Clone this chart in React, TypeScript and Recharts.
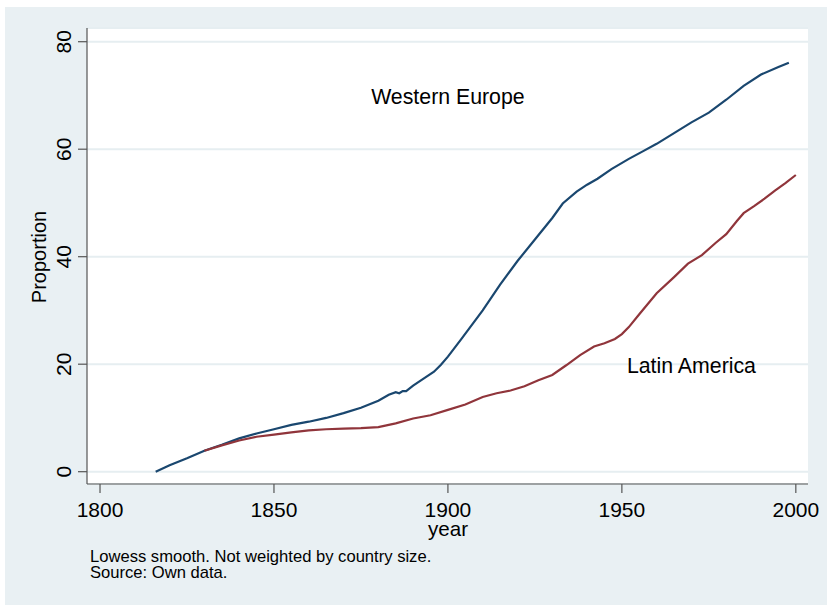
import React from 'react';
import { LineChart, Line, XAxis, YAxis, CartesianGrid, ReferenceDot } from 'recharts';

// Western Europe (lowess smooth)
const weYears = [1816, 1820, 1825, 1830, 1835, 1840, 1845, 1850, 1855, 1860, 1865, 1870, 1875, 1880, 1883, 1885, 1886, 1887, 1888, 1890, 1893, 1896, 1898, 1900, 1904, 1910, 1915, 1920, 1925, 1930, 1933, 1937, 1940, 1943, 1947, 1952, 1956, 1960, 1965, 1970, 1975, 1980, 1985, 1990, 1995, 1998];
const weValues = [0, 1.2, 2.5, 3.9, 5.0, 6.2, 7.1, 7.9, 8.7, 9.3, 10.0, 10.9, 11.9, 13.2, 14.3, 14.8, 14.6, 15.0, 15.0, 16.0, 17.3, 18.6, 19.9, 21.4, 24.8, 30.0, 34.8, 39.2, 43.2, 47.2, 49.9, 52.1, 53.4, 54.5, 56.3, 58.2, 59.6, 61.0, 63.0, 65.0, 66.8, 69.2, 71.8, 73.9, 75.3, 76.1];

// Latin America (lowess smooth)
const laYears = [1830, 1835, 1840, 1845, 1850, 1855, 1860, 1865, 1870, 1875, 1880, 1885, 1890, 1895, 1900, 1905, 1910, 1914, 1918, 1922, 1926, 1930, 1934, 1938, 1942, 1945, 1948, 1950, 1952, 1955, 1960, 1965, 1969, 1973, 1977, 1980, 1983, 1985, 1988, 1991, 1994, 1997, 2000];
const laValues = [3.9, 4.9, 5.8, 6.5, 6.9, 7.3, 7.7, 7.9, 8.0, 8.1, 8.3, 9.0, 9.9, 10.5, 11.5, 12.5, 13.9, 14.6, 15.1, 15.9, 17.0, 18.0, 19.8, 21.7, 23.3, 23.9, 24.7, 25.6, 26.9, 29.3, 33.2, 36.2, 38.7, 40.3, 42.6, 44.2, 46.6, 48.1, 49.4, 50.8, 52.3, 53.7, 55.2];

const xTicks = [1800, 1850, 1900, 1950, 2000];
const yTicks = [0, 20, 40, 60, 80];

const weData = weYears.map((year, i) => ({ year, value: weValues[i] }));
const laData = laYears.map((year, i) => ({ year, value: laValues[i] }));

const FONT = '"Liberation Sans", Arial, Helvetica, sans-serif';
const BG = '#e9f0f3';

const YTick = (props: any) => {
    const { x, y, payload } = props;
    const bx = x - 5;
    return (
        <text x={bx} y={y} transform={`rotate(-90, ${bx}, ${y})`} textAnchor="middle"
            fontSize={21} fontFamily={FONT} fill="#000">
            {payload.value}
        </text>
    );
};

const App = () => {
    return (
        <div style={{ position: 'absolute', left: 0, top: 0, width: 827, height: 607, background: '#fff' }}>
            <div style={{ position: 'absolute', left: 5, top: 7, width: 822, height: 598, background: BG }} />
            <div style={{ position: 'absolute', left: 87, top: 28, width: 721, height: 456, background: '#fff' }} />
            <div style={{ position: 'absolute', left: 0, top: 0 }}>
                <LineChart width={827} height={607} margin={{ top: 28, right: 19, left: 37, bottom: 93 }}>
                    <CartesianGrid vertical={false} stroke="#e6eef1" strokeWidth={2} />
                    <XAxis type="number" dataKey="year" domain={[1796.26, 2003.5]} ticks={xTicks}
                        allowDataOverflow height={30} tickSize={9} tickMargin={9}
                        stroke="#555" strokeWidth={1.2}
                        tick={{ fontSize: 21, fontFamily: FONT, fill: '#000' }} />
                    <YAxis type="number" dataKey="value" domain={[-2.29, 82.55]} ticks={yTicks}
                        allowDataOverflow width={50} tickSize={9}
                        stroke="#555" strokeWidth={1.2} tick={<YTick />} />
                    <Line data={weData} dataKey="value" type="linear" stroke="#1a476f" strokeWidth={2.2}
                        dot={false} isAnimationActive={false} />
                    <Line data={laData} dataKey="value" type="linear" stroke="#90353b" strokeWidth={2.2}
                        dot={false} isAnimationActive={false} />
                    <ReferenceDot x={1900} y={69.8} r={0} stroke="none" fill="none"
                        label={{ value: 'Western Europe', position: 'center', fontSize: 21.3, fontFamily: FONT, fill: '#000' }} />
                    <ReferenceDot x={1970} y={19.8} r={0} stroke="none" fill="none"
                        label={{ value: 'Latin America', position: 'center', fontSize: 21.3, fontFamily: FONT, fill: '#000' }} />
                </LineChart>
            </div>
            <svg width={827} height={607} style={{ position: 'absolute', left: 0, top: 0, pointerEvents: 'none' }}>
                <text x={46} y={257} transform="rotate(-90, 46, 257)" textAnchor="middle"
                    fontSize={20} fontFamily={FONT} fill="#000">Proportion</text>
                <text x={448} y={536} textAnchor="middle" fontSize={20.6} fontFamily={FONT} fill="#000">year</text>
                <text x={90} y={562} fontSize={16.6} fontFamily={FONT} fill="#000">Lowess smooth. Not weighted by country size.</text>
                <text x={90} y={578} fontSize={16.6} fontFamily={FONT} fill="#000">Source: Own data.</text>
            </svg>
        </div>
    );
};

export default App;
